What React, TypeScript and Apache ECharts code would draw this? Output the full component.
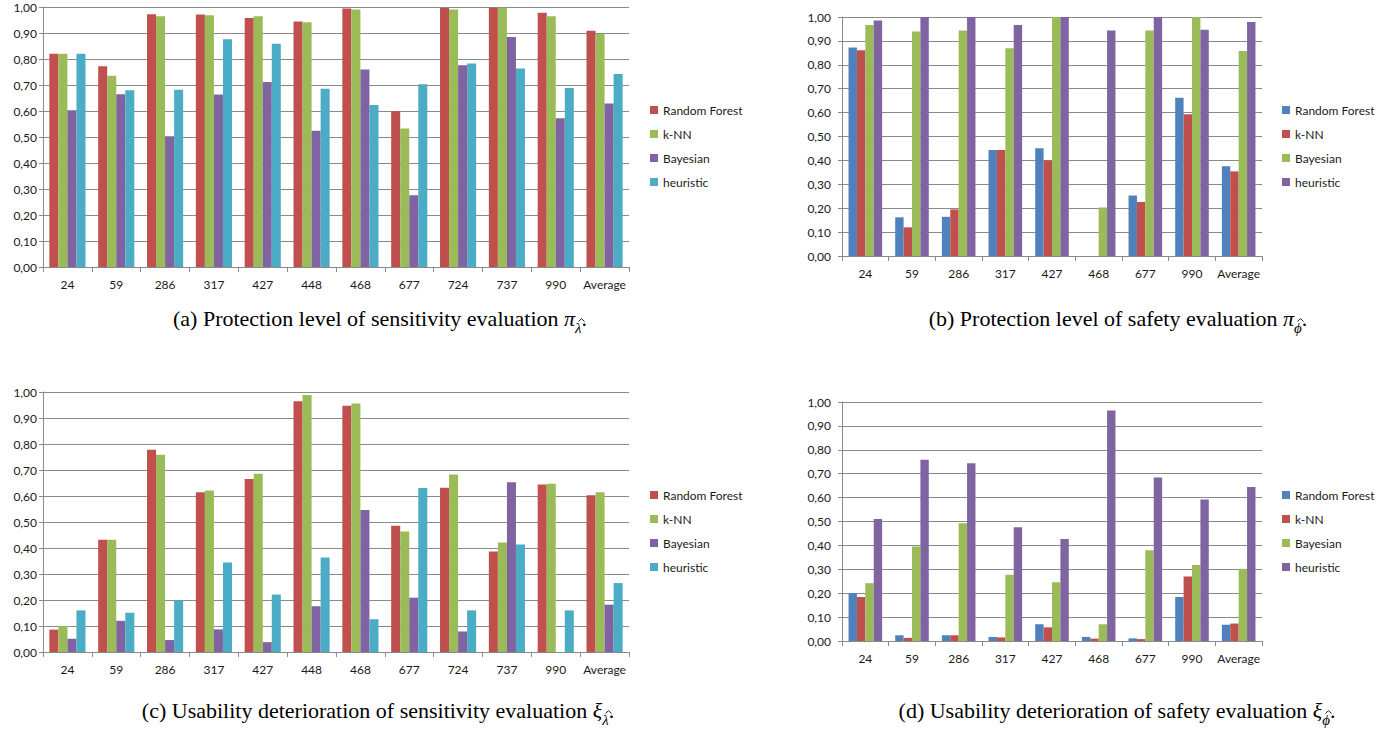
import React, { useEffect, useRef } from "react";
import * as echarts from "echarts";

const catsA = ["24", "59", "286", "317", "427", "448", "468", "677", "724", "737", "990", "Average"];
const catsB = ["24", "59", "286", "317", "427", "468", "677", "990", "Average"];
const names = ["Random Forest", "k-NN", "Bayesian", "heuristic"];

// (a) Protection level of sensitivity evaluation
const rfA = [0.82, 0.772, 0.972, 0.971, 0.958, 0.944, 0.994, 0.6, 0.996, 0.997, 0.978, 0.909];
const knnA = [0.82, 0.736, 0.964, 0.968, 0.964, 0.941, 0.99, 0.533, 0.99, 0.997, 0.964, 0.896];
const bayA = [0.603, 0.664, 0.503, 0.663, 0.712, 0.524, 0.76, 0.276, 0.776, 0.885, 0.572, 0.629];
const heuA = [0.82, 0.68, 0.682, 0.876, 0.859, 0.686, 0.623, 0.703, 0.783, 0.763, 0.688, 0.742];

// (b) Protection level of safety evaluation
const rfB = [0.872, 0.162, 0.164, 0.443, 0.451, 0, 0.253, 0.662, 0.376];
const knnB = [0.861, 0.12, 0.195, 0.443, 0.4, 0, 0.226, 0.593, 0.354];
const bayB = [0.967, 0.939, 0.944, 0.869, 1.0, 0.203, 0.943, 1.0, 0.858];
const heuB = [0.985, 1.0, 1.0, 0.967, 1.0, 0.943, 1.0, 0.947, 0.979];

// (c) Usability deterioration of sensitivity evaluation
const rfC = [0.086, 0.432, 0.778, 0.614, 0.665, 0.964, 0.947, 0.486, 0.632, 0.387, 0.644, 0.603];
const knnC = [0.1, 0.432, 0.759, 0.621, 0.686, 0.988, 0.956, 0.463, 0.683, 0.421, 0.647, 0.614];
const bayC = [0.051, 0.12, 0.046, 0.087, 0.038, 0.176, 0.546, 0.209, 0.079, 0.653, 0, 0.182];
const heuC = [0.16, 0.151, 0.199, 0.344, 0.221, 0.363, 0.126, 0.631, 0.16, 0.413, 0.16, 0.265];

// (d) Usability deterioration of safety evaluation
const rfD = [0.2, 0.024, 0.024, 0.017, 0.07, 0.017, 0.011, 0.184, 0.068];
const knnD = [0.184, 0.013, 0.024, 0.015, 0.057, 0.01, 0.008, 0.27, 0.073];
const bayD = [0.242, 0.395, 0.493, 0.277, 0.246, 0.07, 0.38, 0.318, 0.302];
const heuD = [0.51, 0.758, 0.744, 0.476, 0.427, 0.964, 0.684, 0.592, 0.644];

const colorsA = ["#C0504D", "#9BBB59", "#8064A2", "#4BACC6"];
const colorsB = ["#4F81BD", "#C0504D", "#9BBB59", "#8064A2"];

const FONT = "Lato, 'Liberation Sans', sans-serif";
const GRID_COLOR = "#8a8a8a";

type Panel = {
  left: number; top: number; width: number; height: number;
  grid: { left: number; top: number; right: number; bottom: number };
  legend: { left: number; top: number };
  cats: string[];
  data: number[][];
  colors: string[];
  catGap: string;
  yLabelMargin: number;
};

const panels: Panel[] = [
  {
    left: 0, top: 0, width: 780, height: 300,
    grid: { left: 43, top: 7, right: 151, bottom: 33 },
    legend: { left: 645, top: 98 },
    cats: catsA, data: [rfA, knnA, bayA, heuA], colors: colorsA, catGap: "26%", yLabelMargin: 6,
  },
  {
    left: 780, top: 0, width: 615, height: 300,
    grid: { left: 62, top: 17, right: 133, bottom: 44 },
    legend: { left: 497, top: 98 },
    cats: catsB, data: [rfB, knnB, bayB, heuB], colors: colorsB, catGap: "28%", yLabelMargin: 11,
  },
  {
    left: 0, top: 380, width: 780, height: 300,
    grid: { left: 43, top: 12, right: 151, bottom: 28 },
    legend: { left: 645, top: 103 },
    cats: catsA, data: [rfC, knnC, bayC, heuC], colors: colorsA, catGap: "26%", yLabelMargin: 6,
  },
  {
    left: 780, top: 390, width: 615, height: 290,
    grid: { left: 62, top: 12, right: 133, bottom: 39 },
    legend: { left: 497, top: 93 },
    cats: catsB, data: [rfD, knnD, bayD, heuD], colors: colorsB, catGap: "28%", yLabelMargin: 11,
  },
];

function buildOption(p: Panel) {
  return {
    animation: false,
    grid: { ...p.grid, containLabel: false },
    legend: {
      orient: "vertical",
      left: p.legend.left,
      top: p.legend.top,
      itemWidth: 8,
      itemHeight: 8,
      itemGap: 10,
      icon: "rect",
      selectedMode: false,
      data: names,
      textStyle: { fontFamily: FONT, fontSize: 12, color: "#1a1a1a", lineHeight: 14 },
    },
    xAxis: {
      type: "category",
      data: p.cats,
      axisLine: { show: true, lineStyle: { color: GRID_COLOR, width: 1 } },
      axisTick: { show: true, length: 5, alignWithLabel: false, lineStyle: { color: GRID_COLOR } },
      axisLabel: { fontFamily: FONT, fontSize: 12, color: "#1a1a1a", margin: 11, interval: 0 },
      splitLine: { show: false },
    },
    yAxis: {
      type: "value",
      min: 0,
      max: 1,
      interval: 0.1,
      axisLine: { show: true, lineStyle: { color: GRID_COLOR, width: 1 } },
      axisTick: { show: true, length: 4, lineStyle: { color: GRID_COLOR } },
      axisLabel: {
        fontFamily: FONT, fontSize: 12, color: "#1a1a1a", margin: p.yLabelMargin,
        formatter: (v: number) => v.toFixed(2).replace(".", ","),
      },
      splitLine: { show: true, lineStyle: { color: GRID_COLOR, width: 1 } },
    },
    series: names.map((n, i) => ({
      name: n,
      type: "bar",
      data: p.data[i],
      barGap: "0%",
      barCategoryGap: p.catGap,
      itemStyle: { color: p.colors[i] },
      emphasis: { disabled: true },
    })),
  };
}

function ChartBox({ p }: { p: Panel }) {
  const ref = useRef<HTMLDivElement>(null);
  useEffect(() => {
    if (!ref.current) return;
    const chart = echarts.init(ref.current, undefined, { renderer: "svg" });
    chart.setOption(buildOption(p) as any);
    return () => chart.dispose();
  }, [p]);
  return (
    <div
      ref={ref}
      style={{ position: "absolute", left: p.left, top: p.top, width: p.width, height: p.height }}
    />
  );
}

const capStyle: React.CSSProperties = {
  position: "absolute",
  width: 800,
  textAlign: "center",
  fontFamily: "'Liberation Serif', 'Times New Roman', serif",
  fontSize: 22,
  lineHeight: "24px",
  color: "#000",
  whiteSpace: "nowrap",
};

function Hatted({ ch }: { ch: string }) {
  return (
    <span
      style={{
        position: "relative",
        display: "inline-block",
        fontSize: "0.68em",
        fontStyle: "italic",
        verticalAlign: "-0.45em",
        lineHeight: 1,
      }}
    >
      {ch}
      <svg
        width="7"
        height="4"
        viewBox="0 0 7 4"
        style={{ position: "absolute", left: "0.22em", top: "-0.2em" }}
      >
        <polyline points="0.5,3.5 3.5,0.6 6.5,3.5" fill="none" stroke="#000" strokeWidth="0.9" />
      </svg>
    </span>
  );
}

function Caption({ cx, cy, label, sym, sub }: { cx: number; cy: number; label: string; sym: string; sub: string }) {
  return (
    <div style={{ ...capStyle, left: cx - 400, top: cy - 12 }}>
      {label}
      <i>{sym}</i>
      <Hatted ch={sub} />.
    </div>
  );
}

export default function App() {
  return (
    <div style={{ position: "fixed", left: 0, top: 0, width: 1395, height: 729, background: "#fff", overflow: "hidden" }}>
      {panels.map((p, i) => (
        <ChartBox key={i} p={p} />
      ))}
      <Caption cx={380} cy={319} label="(a) Protection level of sensitivity evaluation " sym="π" sub="λ" />
      <Caption cx={1118} cy={319} label="(b) Protection level of safety evaluation " sym="π" sub="ϕ" />
      <Caption cx={378} cy={711} label="(c) Usability deterioration of sensitivity evaluation " sym="ξ" sub="λ" />
      <Caption cx={1117} cy={711} label="(d) Usability deterioration of safety evaluation " sym="ξ" sub="ϕ" />
    </div>
  );
}
